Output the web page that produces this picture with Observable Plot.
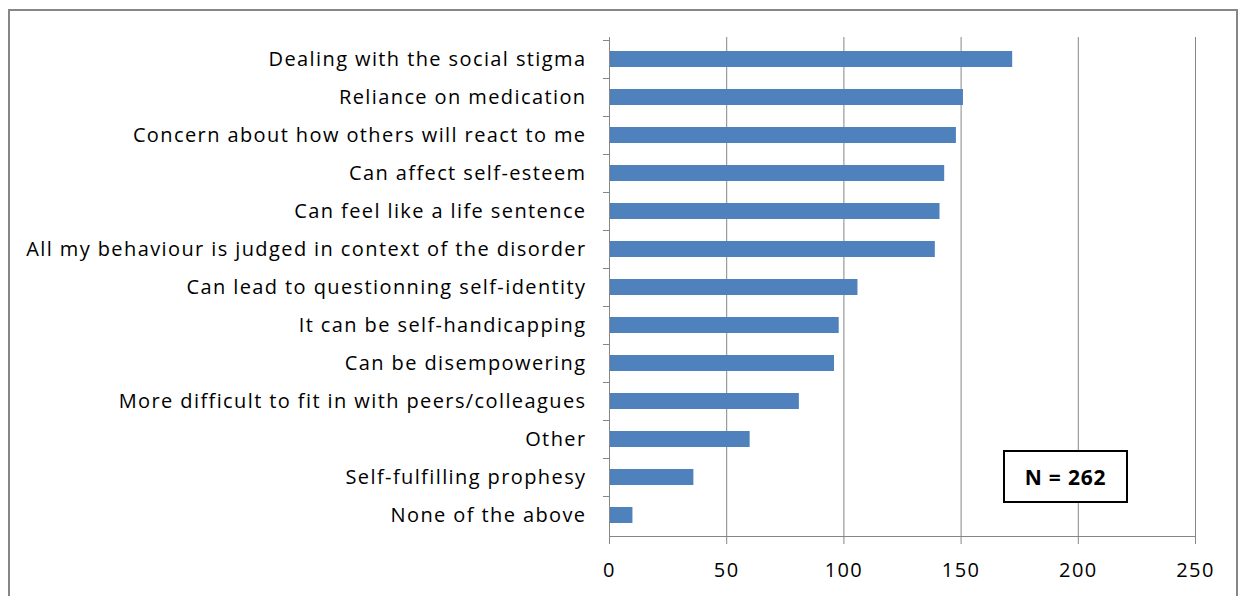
<!DOCTYPE html>
<html><head><meta charset="utf-8">
<script src="https://cdn.jsdelivr.net/npm/d3@7"></script>
<script src="https://cdn.jsdelivr.net/npm/@observablehq/plot@0.6"></script>
<style>
body{margin:0;background:#fff;}
#wrap{position:relative;width:1243px;height:596px;overflow:hidden;font-family:"Open Sans",sans-serif;}
#border{position:absolute;left:8px;top:9px;width:1230px;height:600px;border:2px solid #868686;box-sizing:border-box;}
#chart{position:absolute;left:0;top:0;}
#chart svg text{letter-spacing:1.4px;}
#nbox{position:absolute;left:1003px;top:450px;width:125px;height:53px;border:2px solid #000;box-sizing:border-box;background:#fff;display:flex;align-items:center;justify-content:center;font-weight:bold;font-size:21px;letter-spacing:0.8px;color:#000;}
</style></head>
<body><div id="wrap"><div id="border"></div><div id="chart"></div><div id="nbox">N = 262</div></div>
<script>
const categories = [
  "Dealing with the social stigma",
  "Reliance on medication",
  "Concern about how others will react to me",
  "Can affect self-esteem",
  "Can feel like a life sentence",
  "All my behaviour is judged in context of the disorder",
  "Can lead to questionning self-identity",
  "It can be self-handicapping",
  "Can be disempowering",
  "More difficult to fit in with peers/colleagues",
  "Other",
  "Self-fulfilling prophesy",
  "None of the above"
];
const counts = [172, 151, 148, 143, 141, 139, 106, 98, 96, 81, 60, 36, 10];
const xTicks = [0, 50, 100, 150, 200, 250];

const data = categories.map((c, i) => ({category: c, count: counts[i]}));

function bandBoundaryTicks(index, scales, values, dimensions, context) {
  const g = d3.create("svg:g").attr("stroke", "#868686").attr("stroke-width", 1);
  const y = scales.y;
  const step = y.step ? y.step() : y.bandwidth();
  const x0 = dimensions.marginLeft;
  const doms = y.domain();
  for (let i = 0; i < doms.length; i++) {
    const yy = Math.round(y(doms[i]) - (step - y.bandwidth()) / 2) + 0.5;
    g.append("line").attr("x1", x0 - 6).attr("x2", x0).attr("y1", yy).attr("y2", yy);
  }
  return g.node();
}

const plot = Plot.plot({
  width: 1243,
  height: 596,
  marginLeft: 609,
  marginRight: 48,
  marginTop: 37,
  marginBottom: 60,
  style: {fontFamily: "'Open Sans', sans-serif", fontSize: "20px", color: "#000", background: "transparent"},
  x: {domain: [0, 250], ticks: xTicks},
  y: {domain: categories, padding: 0.58, paddingOuter: 0.29},
  marks: [
    Plot.gridX(xTicks.filter(t => t > 0), {stroke: "#868686", strokeOpacity: 1, strokeWidth: 1}),
    Plot.barX(data, {x: "count", y: "category", fill: "#4F81BD"}),
    Plot.ruleX([0], {stroke: "#868686", strokeWidth: 1}),
    Plot.frame({anchor: "bottom", stroke: "#868686"}),
    Plot.axisX(xTicks, {tickSize: 8, tickPadding: 18, stroke: "#868686", fill: "#000", label: null, fontSize: 20}),
    Plot.axisY({tickSize: 0, tickPadding: 23, label: null, fill: "#000", fontSize: 20}),
    bandBoundaryTicks
  ]
});
document.getElementById("chart").appendChild(plot);
</script></body></html>
